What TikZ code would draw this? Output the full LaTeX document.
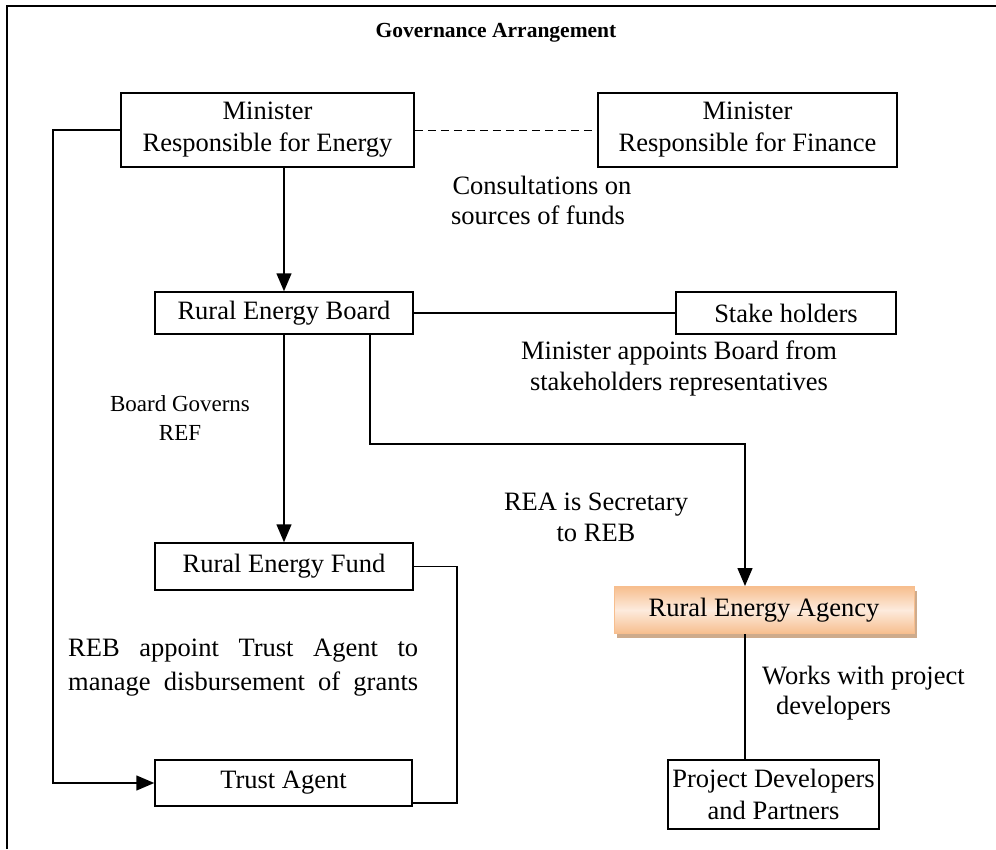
\documentclass[tikz,border=0pt]{standalone}
\usepackage{fontspec}
\setmainfont{Liberation Serif}
\usetikzlibrary{arrows.meta,shadows}
\definecolor{reaedge}{HTML}{F7BE8E}
\definecolor{realight}{HTML}{FDEBDD}
\definecolor{reashadow}{HTML}{C9A27F}
\tikzset{
  box/.style={draw, line width=1.5pt, inner sep=0pt, align=center,
    font=\fontsize{26.5}{32}\selectfont},
  lbl/.style={inner sep=0pt, align=center, font=\fontsize{26.5}{32}\selectfont},
  small/.style={inner sep=0pt, align=center, font=\fontsize{23}{29}\selectfont},
  conn/.style={line width=1.5pt},
  arr/.style={line width=1.5pt, -{Triangle[length=18pt,width=15pt]}},
}
\begin{document}
\begin{tikzpicture}[x=1pt,y=-1pt]
\useasboundingbox (0,0) rectangle (996,849);
\draw[line width=1.6pt] (7,849) -- (7,6) -- (996,6);
\node[inner sep=0pt, font=\fontsize{21.5}{25}\selectfont\bfseries] (title) at (496,33) {Governance Arrangement};

\node[box, minimum width=293pt, minimum height=74pt] (me) at (267.5,130) {Minister\\Responsible for Energy};
\node[box, minimum width=299pt, minimum height=74pt] (mf) at (747.5,130) {Minister\\Responsible for Finance};
\node[box, minimum width=258pt, minimum height=42pt] (reb) at (284,313) {Rural Energy Board};
\node[box, minimum width=220pt, minimum height=42pt] (sh) at (786,313) {Stake holders};
\node[box, minimum width=258pt, minimum height=47pt] (ref) at (284,566.5) {Rural Energy Fund};
\node[box, minimum width=257pt, minimum height=46pt] (ta) at (283.5,783) {Trust Agent};
\node[box, minimum width=211pt, minimum height=69pt] (pdp) at (773.5,794.5) {Project Developers\\and Partners};
\node[box, draw=reaedge, line width=1pt, minimum width=300pt, minimum height=47pt,
  top color=reaedge, bottom color=reaedge, middle color=realight,
  drop shadow={shadow xshift=3pt, shadow yshift=-4pt, fill=reashadow, opacity=0.9}] (rea) at (764,610) {Rural Energy Agency};

\node[lbl] (c1) at (542,185) {Consultations on};
\node[lbl] (c2) at (538,215) {sources of funds};
\node[lbl] (m1) at (679,353) {Minister appoints Board from};
\node[lbl] (m2) at (679,384) {stakeholders representatives};
\node[small] (bg) at (180,418) {Board Governs\\REF};
\node[lbl] (r1) at (596,505) {REA is Secretary};
\node[lbl] (r2) at (596,533) {to REB};
\node[lbl, anchor=west] (w1) at (762,678) {Works with project};
\node[lbl, anchor=west] (w2) at (776,708) {developers};
\node[lbl, anchor=west] (t1) at (68,651) {\makebox[350pt][s]{REB appoint Trust Agent to}};
\node[lbl, anchor=west] (t2) at (68,684) {\makebox[350pt][s]{manage disbursement of grants}};

\draw[line width=1pt, dash pattern=on 8pt off 5pt] (me.east) -- (mf.west);
\draw[arr] (reb.north |- me.south) -- (reb.north);
\draw[conn] (reb.east) -- (sh.west);
\draw[arr] (reb.south) -- (ref.north);
\coordinate (k1) at (370,444);
\coordinate (k2) at (745,444);
\draw[arr] (k1 |- reb.south) -- (k1) -- (k2) -- (k2 |- rea.north);
\draw[conn] (k2 |- rea.south) -- (k2 |- pdp.north);
\coordinate (k3) at (53,130);
\draw[arr] (me.west) -- (k3) |- (ta.west);
\coordinate (k4) at (457,566.5);
\draw[conn] (ref.east) -- (k4) |- ([yshift=-20pt]ta.east);
\end{tikzpicture}
\end{document}
